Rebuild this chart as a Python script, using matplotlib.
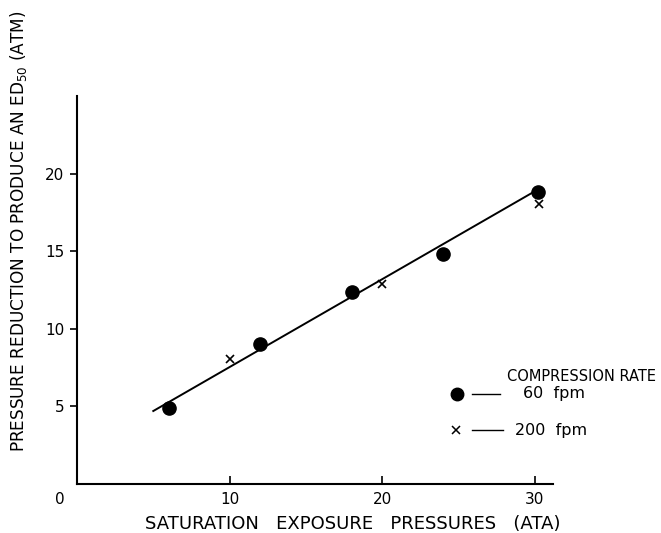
import matplotlib
matplotlib.use("Agg")
from matplotlib import pyplot as plt

# compression rate 60 fpm (dots)
sat_60 = [6, 12, 18, 24, 30.2]
red_60 = [4.9, 9.0, 12.4, 14.8, 18.8]
# compression rate 200 fpm (x)
sat_200 = [10, 20, 30.3]
red_200 = [8.05, 12.9, 18.05]
# fitted line end points
fit_x = [5, 30]
fit_y = [4.7, 18.85]

x_ticks = [10, 20, 30]
y_ticks = [5, 10, 15, 20]

plt.rcParams['font.family'] = ['DejaVu Sans']

fig = plt.figure(figsize=(6.61, 5.33), dpi=100)
ax = fig.add_axes([0.1165, 0.092, 0.72, 0.728])

ax.plot(fit_x, fit_y, color='black', lw=1.4)
ax.plot(sat_60, red_60, 'o', color='black', ms=9.5, zorder=3)
ax.plot(sat_200, red_200, 'x', color='black', ms=6, mew=1.2, zorder=3)

ax.set_xlim(0, 31.2)
ax.set_ylim(0, 25)
ax.spines['top'].set_visible(False)
ax.spines['right'].set_visible(False)
ax.spines['left'].set_linewidth(1.5)
ax.spines['bottom'].set_linewidth(1.5)

ax.set_xticks(x_ticks)
ax.set_yticks(y_ticks)
ax.tick_params(axis='x', direction='in', length=6, width=1.2, labelsize=11, pad=6)
ax.tick_params(axis='y', direction='out', length=5, width=1.2, labelsize=11, pad=4)
ax.text(-0.025, -0.02, '0', transform=ax.transAxes, ha='right', va='top', fontsize=11)

ax.set_xlabel('SATURATION   EXPOSURE   PRESSURES   (ATA)', fontsize=13)
ax.xaxis.set_label_coords(0.58, -0.08)
ax.set_ylabel('PRESSURE REDUCTION TO PRODUCE AN ED$_{50}$ (ATM)', fontsize=12.2)
ax.yaxis.set_label_coords(-0.1, 0.65)

# legend drawn by hand, as in the original figure
ax.text(0.903, 0.276, 'COMPRESSION RATE', transform=ax.transAxes, fontsize=10.5, va='center')
ax.plot([0.798], [0.232], 'o', color='black', ms=9, transform=ax.transAxes, clip_on=False)
ax.plot([0.83, 0.889], [0.232, 0.232], color='black', lw=1, transform=ax.transAxes, clip_on=False)
ax.text(0.937, 0.232, '60  fpm', transform=ax.transAxes, fontsize=11.5, va='center')
ax.plot([0.796], [0.139], 'x', color='black', ms=5.5, mew=1.1, transform=ax.transAxes, clip_on=False)
ax.plot([0.83, 0.895], [0.139, 0.139], color='black', lw=1, transform=ax.transAxes, clip_on=False)
ax.text(0.92, 0.139, '200  fpm', transform=ax.transAxes, fontsize=11.5, va='center')

fig.savefig('out.png', dpi=100)
